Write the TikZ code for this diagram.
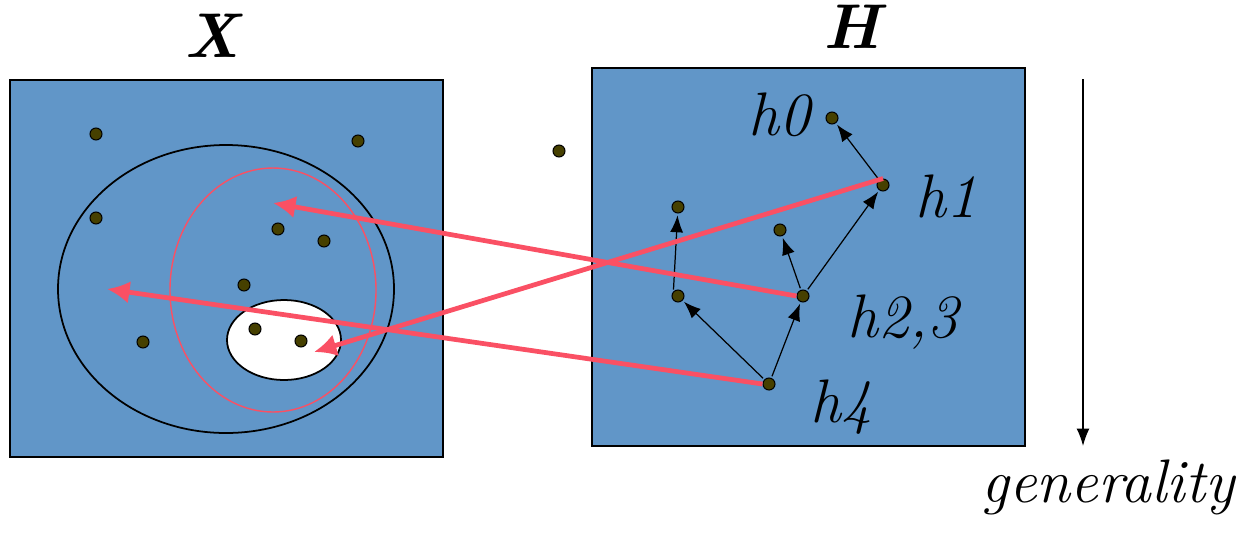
\documentclass[tikz,border=0pt]{standalone}
\usetikzlibrary{arrows.meta}

\definecolor{boxblue}{RGB}{97,150,200}
\definecolor{dotolive}{RGB}{70,64,0}
\definecolor{hypred}{RGB}{250,80,100}

\begin{document}
\begin{tikzpicture}[x=0.02cm,y=-0.02cm,>=Latex,
  spc/.style={draw=black,line width=0.8pt,fill=boxblue},
  pt/.style={circle,draw=black,line width=0.6pt,fill=dotolive,minimum size=0.24cm,inner sep=0pt},
  lbl/.style={font=\fontsize{35}{40}\selectfont\itshape,inner sep=0pt,anchor=base},
  ttl/.style={font=\fontsize{36}{40}\selectfont\bfseries\itshape,inner sep=0pt,anchor=base},
  gen/.style={-{Latex[length=3.4mm,width=2.6mm]},line width=0.7pt,shorten >=1pt,shorten <=1pt},
  map/.style={-{Latex[length=4.5mm,width=4.5mm]},draw=hypred,line width=2.7pt}]
\useasboundingbox (0,0) rectangle (1243,535);

% instance space and hypothesis space
\draw[spc] (10,80) rectangle (443,457);
\draw[spc] (592,68) rectangle (1025,446);
\draw[line width=1pt] (226,289) ellipse [x radius=168, y radius=144];
\draw[hypred,line width=0.8pt] (273,290) ellipse [x radius=103, y radius=122];
\draw[line width=1pt,fill=white] (284,340) ellipse [x radius=57, y radius=40];

% points of X
\node[pt] (x1) at (96,134) {};
\node[pt] (x2) at (358,141) {};
\node[pt] (x3) at (96,218) {};
\node[pt] (x4) at (278,229) {};
\node[pt] (x5) at (324,241) {};
\node[pt] (x6) at (244,285) {};
\node[pt] (x7) at (143,342) {};
\node[pt] (x8) at (255,329) {};
\node[pt] (x9) at (301,341) {};
\node[pt] (x10) at (559,151) {};

% hypotheses in H
\node[pt] (h0) at (832,118) {};
\node[pt] (h1) at (883,185) {};
\node[pt] (hup) at (678,207) {};
\node[pt] (hmid) at (780,230) {};
\node[pt] (hleft) at (678,296) {};
\node[pt] (h23) at (803,296) {};
\node[pt] (h4) at (769,384) {};

\draw[gen] (h1) -- (h0);
\draw[gen] (h23) -- (h1);
\draw[gen] (h23) -- (hmid);
\draw[gen] (hleft.north west) -- (hup);
\draw[gen] (h4) -- (hleft);
\draw[gen] (h4) -- (h23);

% mapping hypotheses to X
\coordinate (tipa) at (273,203);
\coordinate (tipb) at (314,352);
\coordinate (tipc) at (107,289);
\draw[map] (h23.west) -- (tipa);
\draw[map] (h1.north) -- (tipb);
\draw[map] (h4.west) -- (tipc);

% generality axis
\coordinate (gtop) at (1083,79);
\coordinate (gbot) at (1083,446);
\draw[-{Latex[length=3.5mm,width=2.6mm]},line width=0.8pt] (gtop) -- (gbot);

\node[ttl] (xlab) at (212,57) {X};
\node[ttl] (hlab) at (852,48) {H};
\node[lbl] (l0) at (779,135) {h0};
\node[lbl] (l1) at (946,217) {h1};
\node[lbl] (l23) at (903,337) {h2,3};
\node[lbl] (l4) at (841,422) {h4};
\node[lbl] (lgen) at (1108,502) {generality};
\end{tikzpicture}
\end{document}
